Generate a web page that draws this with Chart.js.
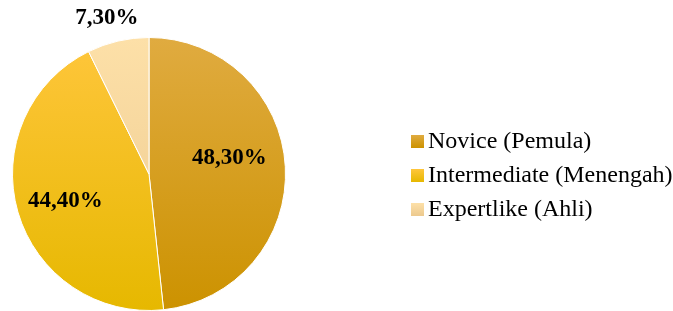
<!DOCTYPE html>
<html>
<head>
<meta charset="utf-8">
<script src="https://cdn.jsdelivr.net/npm/chart.js@4/dist/chart.umd.min.js"></script>
<style>
  html, body { margin: 0; padding: 0; background: #fff; }
  #wrap { width: 673px; height: 311px; position: relative; }
</style>
</head>
<body>
<div id="wrap"><canvas id="pieChart"></canvas></div>
<script>
const categories = ['Novice (Pemula)', 'Intermediate (Menengah)', 'Expertlike (Ahli)'];
const percentages = [48.3, 44.4, 7.3];
const valueLabels = ['48,30%', '44,40%', '7,30%'];

// top / bottom gradient stops per slice
const gradStops = [
  ['#e0ab40', '#cc9200'],
  ['#ffc63c', '#e6b800'],
  ['#fde0a8', '#ecc98e']
];

function sliceColor(context) {
  const chart = context.chart;
  const area = chart.chartArea;
  if (!area) return gradStops[context.dataIndex][1];
  const g = chart.ctx.createLinearGradient(0, area.top, 0, area.bottom);
  const s = gradStops[context.dataIndex];
  g.addColorStop(0, s[0]);
  g.addColorStop(1, s[1]);
  return g;
}

// label placement: fraction of radius, angle tweak in degrees
const labelRadius = [0.6, 0.644, 1.18];
const labelTurn = [-8, -1.6, -2];

const pieLabels = {
  id: 'pieLabels',
  afterDatasetsDraw(chart) {
    const ctx = chart.ctx;
    const meta = chart.getDatasetMeta(0);
    ctx.save();
    ctx.font = 'bold 23px "Liberation Serif", "Times New Roman", serif';
    ctx.fillStyle = '#000';
    ctx.textAlign = 'center';
    ctx.textBaseline = 'middle';
    meta.data.forEach((arc, i) => {
      const p = arc.getProps(['x', 'y', 'startAngle', 'endAngle', 'outerRadius'], true);
      const mid = (p.startAngle + p.endAngle) / 2 + labelTurn[i] * Math.PI / 180;
      const r = p.outerRadius * labelRadius[i];
      ctx.fillText(valueLabels[i], p.x + Math.cos(mid) * r, p.y + Math.sin(mid) * r);
    });
    ctx.restore();
  }
};

const sideLegend = {
  id: 'sideLegend',
  afterDraw(chart) {
    const ctx = chart.ctx;
    ctx.save();
    ctx.font = '24px "Liberation Serif", "Times New Roman", serif';
    ctx.textBaseline = 'middle';
    categories.forEach((name, i) => {
      const y = 141 + i * 34;
      const g = ctx.createLinearGradient(0, y - 6, 0, y + 7);
      g.addColorStop(0, gradStops[i][0]);
      g.addColorStop(1, gradStops[i][1]);
      ctx.fillStyle = g;
      ctx.fillRect(411, y - 6, 13, 13);
      ctx.fillStyle = '#000';
      ctx.fillText(name, 428, y + 1);
    });
    ctx.restore();
  }
};

new Chart(document.getElementById('pieChart'), {
  type: 'pie',
  data: {
    labels: categories,
    datasets: [{
      data: percentages,
      backgroundColor: sliceColor,
      borderColor: '#ffffff',
      borderWidth: 1
    }]
  },
  options: {
    responsive: true,
    maintainAspectRatio: false,
    animation: false,
    layout: {
      padding: { left: 12, top: 37, right: 387, bottom: 0 }
    },
    plugins: {
      legend: { display: false },
      tooltip: { enabled: false }
    }
  },
  plugins: [pieLabels, sideLegend]
});
</script>
</body>
</html>
